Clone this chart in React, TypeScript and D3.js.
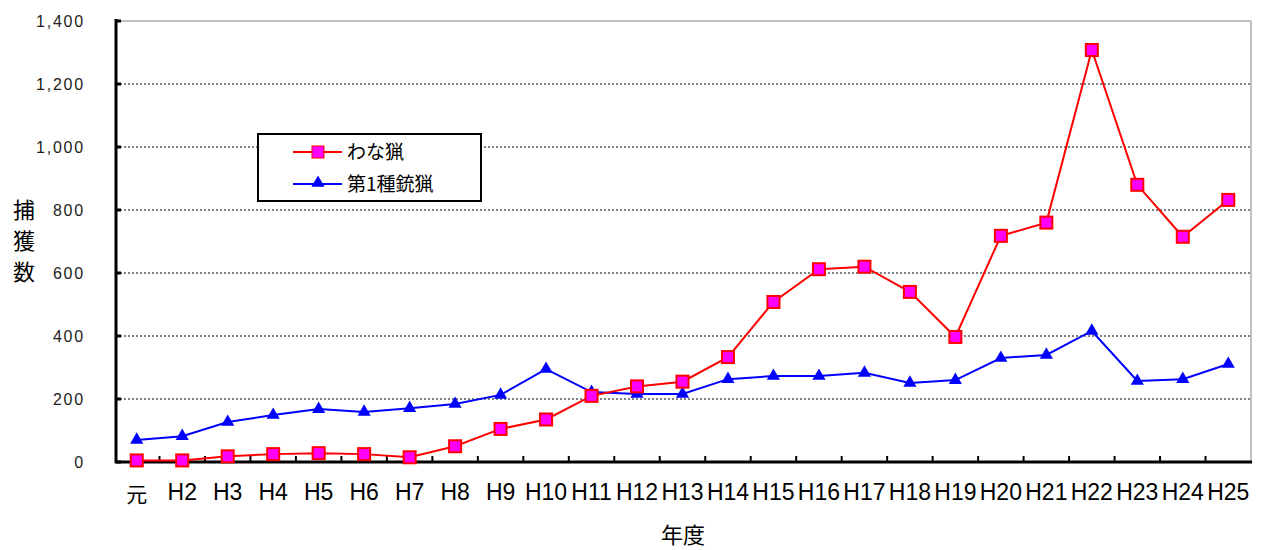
import * as d3 from "d3";

const years = ["元", "H2", "H3", "H4", "H5", "H6", "H7", "H8", "H9", "H10", "H11", "H12", "H13", "H14", "H15", "H16", "H17", "H18", "H19", "H20", "H21", "H22", "H23", "H24", "H25"];
const wanaRyo = [5, 5, 18, 25, 28, 25, 15, 50, 105, 135, 210, 240, 255, 333, 508, 612, 620, 540, 397, 718, 760, 1308, 880, 715, 832];
const jyuRyo = [70, 82, 127, 149, 168, 159, 171, 184, 213, 295, 222, 216, 216, 263, 273, 273, 283, 251, 260, 330, 340, 416, 257, 263, 311];
const yTicks = [0, 200, 400, 600, 800, 1000, 1200, 1400];

const W = 1266;
const H = 550;
const M = { left: 116, right: 1251, top: 21, bottom: 462 };
const JP = "'Noto Sans CJK JP', sans-serif";

export default function App() {
  const x = d3.scaleBand<string>().domain(years).range([M.left - 2, M.right]);
  const y = d3.scaleLinear().domain([0, 1400]).range([M.bottom, M.top]);
  const cx = (d: string) => (x(d) as number) + x.bandwidth() / 2;

  const line = d3.line<number>()
    .x((_, i) => cx(years[i]))
    .y((v) => y(v));

  const tri = d3.symbol().type(d3.symbolTriangle).size(75);
  const fmt = d3.format(",");

  return (
    <svg width={W} height={H} style={{ position: "absolute", left: 0, top: 0, background: "#fff" }}
      fontFamily="'Liberation Sans', Arial, sans-serif">
      {/* grid */}
      {yTicks.filter((t) => t > 0 && t < 1400).map((t) => (
        <line key={t} x1={M.left} x2={M.right} y1={y(t)} y2={y(t)} stroke="#000" strokeWidth={1} strokeDasharray="2,2" />
      ))}
      {/* frame top/right */}
      <line x1={M.left} x2={M.right} y1={M.top} y2={M.top} stroke="#c0c0c0" strokeWidth={2} />
      <line x1={M.right} x2={M.right} y1={M.top} y2={M.bottom} stroke="#c0c0c0" strokeWidth={2} />
      {/* axes */}
      <line x1={M.left} x2={M.left} y1={M.top - 2} y2={M.bottom + 1} stroke="#000" strokeWidth={3} />
      <line x1={M.left - 1} x2={M.right + 1} y1={M.bottom} y2={M.bottom} stroke="#000" strokeWidth={3} />
      {yTicks.map((t) => (
        <g key={t}>
          <line x1={M.left} x2={M.left + 5} y1={y(t)} y2={y(t)} stroke="#000" strokeWidth={3} />
          <text x={85} y={y(t) + 6} textAnchor="end" fontSize={16} letterSpacing={1.8} fill="#222">{fmt(t)}</text>
        </g>
      ))}
      {years.map((d, i) => (
        <g key={d}>
          {i > 0 && (
            <line x1={x(d)} x2={x(d)} y1={M.bottom - 6} y2={M.bottom} stroke="#000" strokeWidth={2} />
          )}
          <text x={cx(d)} y={i === 0 ? 502 : 500} textAnchor="middle" fontSize={i === 0 ? 21 : 23} fill="#000"
            fontFamily={i === 0 ? JP : undefined}>{d}</text>
        </g>
      ))}
      {/* series */}
      <path d={line(jyuRyo) || ""} fill="none" stroke="#0000ff" strokeWidth={2} />
      <path d={line(wanaRyo) || ""} fill="none" stroke="#ff0000" strokeWidth={2} />
      {jyuRyo.map((v, i) => (
        <path key={i} d={tri() || ""} transform={`translate(${cx(years[i])},${y(v)})`} fill="#0000ff" />
      ))}
      {wanaRyo.map((v, i) => (
        <rect key={i} x={cx(years[i]) - 6} y={y(v) - 6} width={12} height={12} fill="#ff00ff" stroke="#ff0000" strokeWidth={2} />
      ))}
      {/* legend */}
      <rect x={258} y={134} width={223} height={67} fill="#fff" stroke="#000" strokeWidth={2} />
      <line x1={293} x2={342} y1={152} y2={152} stroke="#ff0000" strokeWidth={2} />
      <rect x={312} y={146} width={12} height={12} fill="#ff00ff" stroke="#ff0000" strokeWidth={1} />
      <text x={347} y={159} fontSize={19} fontFamily={JP}>わな猟</text>
      <line x1={293} x2={342} y1={184} y2={184} stroke="#0000ff" strokeWidth={2} />
      <path d={tri() || ""} transform="translate(318,183)" fill="#0000ff" />
      <text x={347} y={191} fontSize={19} fontFamily={JP}>第1種銃猟</text>
      {/* axis titles */}
      {["捕", "獲", "数"].map((c, i) => (
        <text key={c} x={24} y={218 + i * 31} textAnchor="middle" fontSize={22} fontFamily={JP}>{c}</text>
      ))}
      <text x={683} y={543} textAnchor="middle" fontSize={22} fontFamily={JP}>年度</text>
    </svg>
  );
}
